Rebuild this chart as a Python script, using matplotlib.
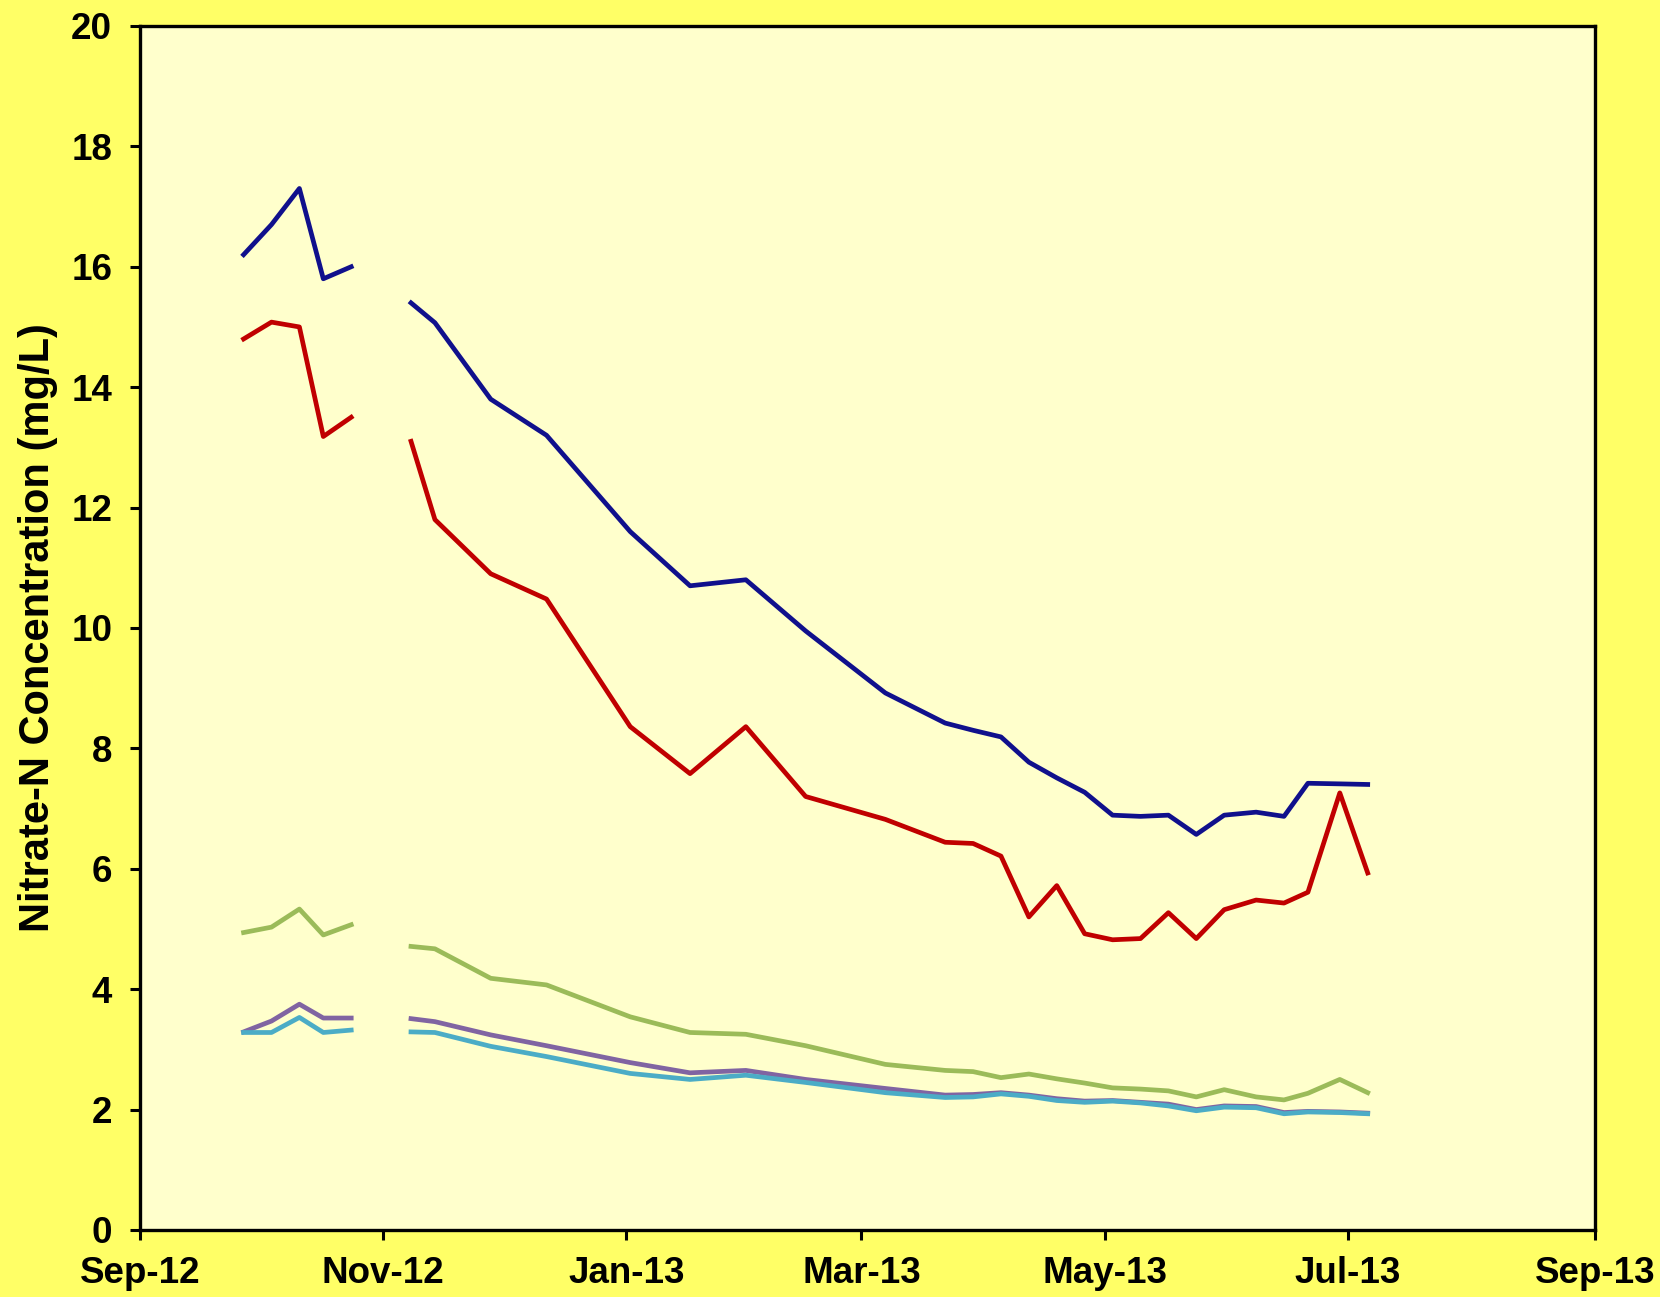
import numpy
import matplotlib
matplotlib.use("Agg")
import matplotlib.pyplot as plt
import matplotlib.dates as mdates

# Sampling dates (fall 2012 block, then the main run after the gap)
dates = ["2012-09-27", "2012-10-04", "2012-10-11", "2012-10-17", "2012-10-24",
         "2012-11-08", "2012-11-14", "2012-11-28", "2012-12-12", "2013-01-02",
         "2013-01-17", "2013-01-31", "2013-02-15", "2013-03-07", "2013-03-22",
         "2013-03-29", "2013-04-05", "2013-04-12", "2013-04-19", "2013-04-26",
         "2013-05-03", "2013-05-10", "2013-05-17", "2013-05-24", "2013-05-31",
         "2013-06-08", "2013-06-15", "2013-06-21", "2013-06-29", "2013-07-06"]
gap_index = 5  # no samples between late Oct and early Nov

blue = [16.2, 16.7, 17.3, 15.8, 16.0,
        15.4, 15.07, 13.8, 13.2, 11.6,
        10.7, 10.8, 9.95, 8.92, 8.42,
        8.3, 8.19, 7.77, 7.51, 7.27,
        6.89, 6.87, 6.89, 6.57, 6.89,
        6.94, 6.87, 7.42, 7.41, 7.40]
red = [14.8, 15.08, 15.0, 13.18, 13.5,
       13.1, 11.8, 10.9, 10.48, 8.36,
       7.58, 8.36, 7.2, 6.82, 6.44,
       6.42, 6.21, 5.2, 5.72, 4.92,
       4.82, 4.84, 5.27, 4.84, 5.32,
       5.48, 5.43, 5.61, 7.26, 5.93]
green = [4.94, 5.03, 5.33, 4.9, 5.07,
         4.71, 4.67, 4.18, 4.07, 3.54,
         3.28, 3.25, 3.06, 2.75, 2.65,
         2.63, 2.53, 2.59, 2.51, 2.44,
         2.36, 2.34, 2.31, 2.21, 2.33,
         2.21, 2.16, 2.27, 2.5, 2.28]
purple = [3.29, 3.47, 3.75, 3.52, 3.52,
          3.51, 3.46, 3.24, 3.06, 2.78,
          2.61, 2.65, 2.5, 2.35, 2.24,
          2.25, 2.28, 2.24, 2.18, 2.14,
          2.15, 2.12, 2.09, 2.0, 2.06,
          2.05, 1.95, 1.97, 1.96, 1.94]
cyan = [3.28, 3.28, 3.53, 3.28, 3.32,
        3.29, 3.28, 3.05, 2.88, 2.6,
        2.5, 2.57, 2.45, 2.28, 2.2,
        2.21, 2.26, 2.22, 2.15, 2.12,
        2.14, 2.11, 2.06, 1.98, 2.04,
        2.03, 1.93, 1.96, 1.95, 1.93]

series_list = [(blue, "#10108C"), (red, "#C00000"), (green, "#9BBB59"),
               (purple, "#8064A2"), (cyan, "#4BACC6")]

x_ticks = ["2012-09-01", "2012-11-01", "2013-01-01", "2013-03-01",
           "2013-05-01", "2013-07-01", "2013-09-01"]

plt.rcParams['font.family'] = ['Liberation Sans', 'DejaVu Sans']
plt.rcParams['font.weight'] = 'bold'

fig = plt.figure(figsize=(16.6, 12.97), dpi=100, facecolor="#FFFF66")
ax = fig.add_axes([0.0843, 0.0517, 0.8765, 0.9283])
ax.set_facecolor("#FFFFCC")

x_dates = numpy.array(dates, dtype="datetime64[D]")
for values, color in series_list:
    values = numpy.array(values)
    ax.plot(x_dates[:gap_index], values[:gap_index], color=color, linewidth=3.4)
    ax.plot(x_dates[gap_index:], values[gap_index:], color=color, linewidth=3.4)

tick_dates = numpy.array(x_ticks, dtype="datetime64[D]")
ax.set_xlim(tick_dates[0], tick_dates[-1])
ax.set_xticks(tick_dates)
ax.xaxis.set_major_formatter(mdates.DateFormatter("%b-%y"))
ax.set_ylim(0, 20)
ax.set_yticks(range(0, 21, 2))

for spine in ax.spines.values():
    spine.set_linewidth(2.4)
    spine.set_color("black")
ax.tick_params(axis="both", direction="out", length=7, width=2.2, labelsize=26.5)
ax.tick_params(axis="y", pad=13)
ax.tick_params(axis="x", pad=12)

ax.set_ylabel("Nitrate-N Concentration (mg/L)", fontsize=30, fontweight="bold")
ax.yaxis.set_label_coords(-0.056, 0.5)

fig.savefig("out.png", dpi=100, facecolor=fig.get_facecolor())
